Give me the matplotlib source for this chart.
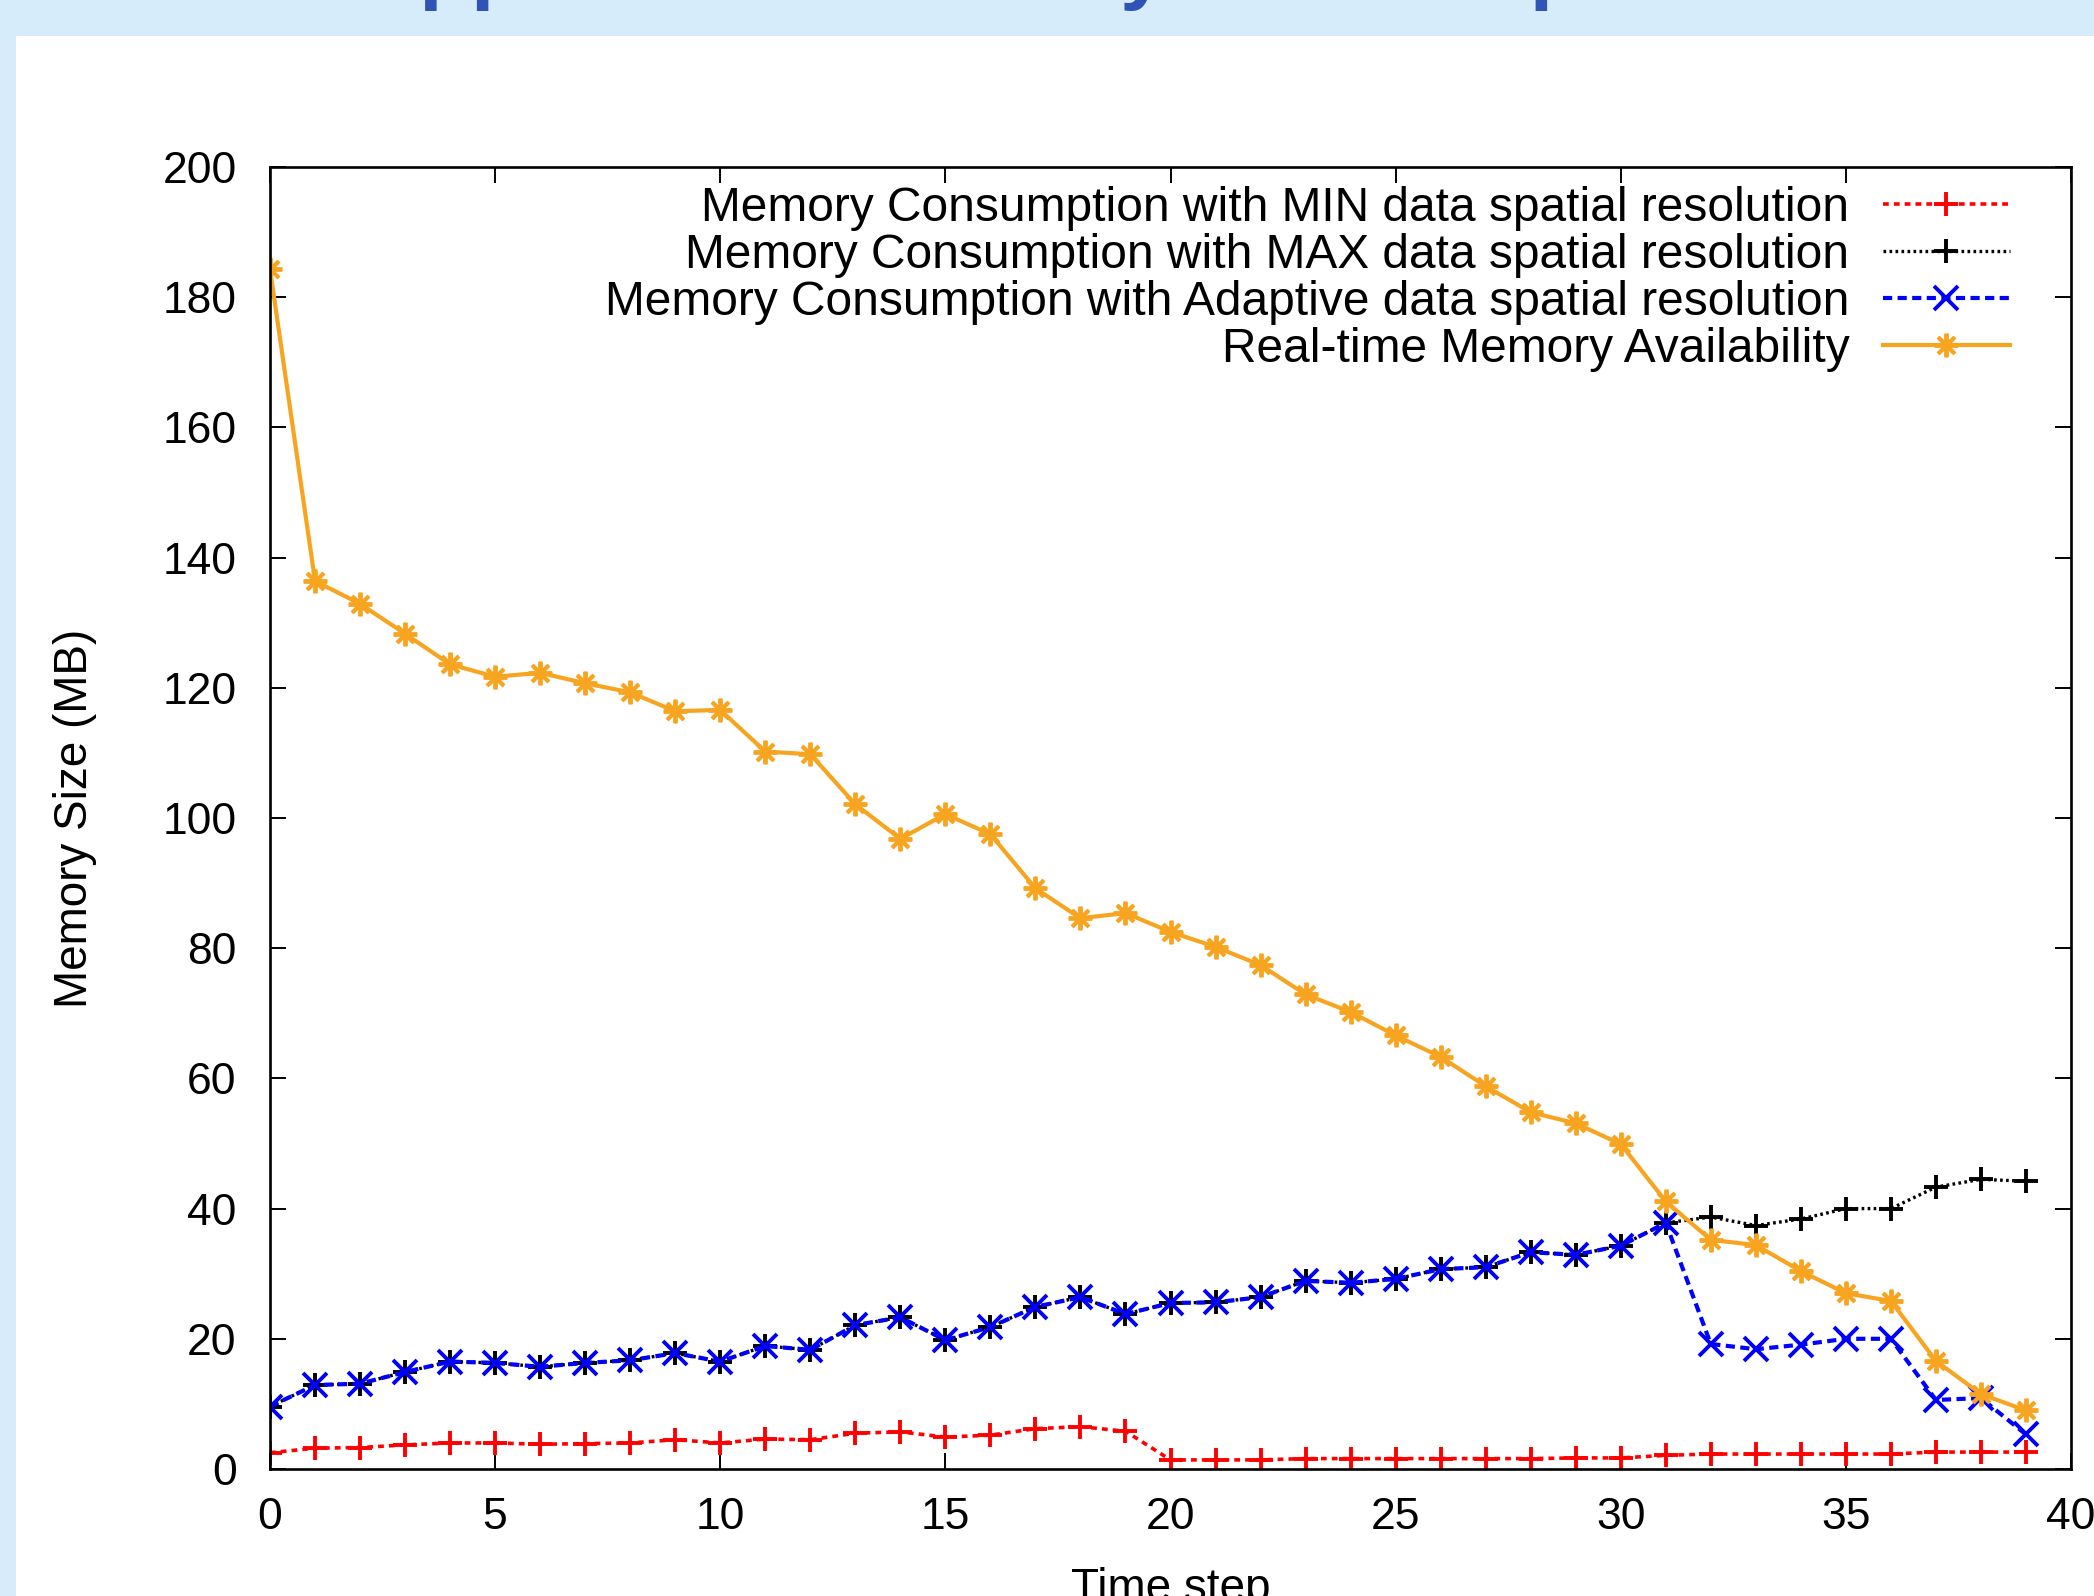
import matplotlib
matplotlib.use("Agg")
import matplotlib.pyplot as plt
from matplotlib.patches import Rectangle

plt.rcParams['font.family'] = ['Liberation Sans', 'DejaVu Sans']

# ---- data ----
time_steps = list(range(40))

mem_min = [2.5, 3.2, 3.3, 3.7, 4.0, 4.0, 3.8, 3.9, 4.0, 4.5,
           4.0, 4.6, 4.5, 5.5, 5.7, 4.9, 5.2, 6.2, 6.5, 5.8,
           1.4, 1.4, 1.4, 1.6, 1.6, 1.6, 1.6, 1.6, 1.6, 1.7,
           1.7, 2.1, 2.3, 2.3, 2.3, 2.3, 2.3, 2.6, 2.6, 2.6]

mem_max = [9.6, 12.9, 13.1, 14.9, 16.5, 16.3, 15.7, 16.3, 16.7, 17.8,
           16.5, 18.9, 18.3, 22.1, 23.3, 19.8, 21.8, 24.9, 26.4, 23.8,
           25.5, 25.6, 26.4, 28.9, 28.6, 29.2, 30.7, 31.0, 33.3, 32.9,
           34.3, 37.8, 38.7, 37.4, 38.4, 40.0, 40.0, 43.3, 44.5, 44.2]

mem_adaptive = [9.6, 12.9, 13.1, 14.9, 16.5, 16.3, 15.7, 16.3, 16.7, 17.8,
                16.5, 18.9, 18.3, 22.1, 23.3, 19.8, 21.8, 24.9, 26.4, 23.8,
                25.5, 25.6, 26.4, 28.9, 28.6, 29.2, 30.7, 31.0, 33.3, 32.9,
                34.3, 37.8, 19.2, 18.4, 19.1, 20.0, 20.0, 10.6, 10.9, 5.3]

mem_available = [184.3, 136.4, 132.9, 128.3, 123.6, 121.7, 122.3, 120.7, 119.3, 116.4,
                 116.6, 110.2, 109.8, 102.1, 96.8, 100.6, 97.5, 89.2, 84.6, 85.4,
                 82.5, 80.2, 77.4, 72.9, 70.2, 66.6, 63.3, 58.8, 54.8, 53.1,
                 49.9, 41.1, 35.2, 34.4, 30.4, 27.0, 25.8, 16.6, 11.5, 9.0]

series_labels = [
    "Memory Consumption with MIN data spatial resolution",
    "Memory Consumption with MAX data spatial resolution",
    "Memory Consumption with Adaptive data spatial resolution",
    "Real-time Memory Availability",
]
x_ticks = [0, 5, 10, 15, 20, 25, 30, 35, 40]
y_ticks = [0, 20, 40, 60, 80, 100, 120, 140, 160, 180, 200]

# ---- figure / slide background ----
W, H = 2094, 1596
fig = plt.figure(figsize=(W / 100, H / 100), dpi=100)
fig.patch.set_facecolor('#d6ecfb')
fig.patches.append(Rectangle((16 / W, 0), 1.0, (H - 36) / H,
                             transform=fig.transFigure, facecolor='white',
                             edgecolor='none', zorder=-10))

# slide title (runs off the top edge)
fig.text(358 / W, 1 + 7 / H, "Application Memory Consumption",
         ha='left', va='baseline', fontsize=61, fontweight='bold',
         color='#3153b5', zorder=1)

left, right = 270 / W, 2071 / W
bottom, top = (H - 1469) / H, (H - 167) / H
ax = fig.add_axes([left, bottom, right - left, top - bottom], zorder=5)
ax.set_facecolor('none')

marker_kw = dict(markersize=17, markeredgewidth=2.8)
asterisk = (8, 2, 0)

ax.plot(time_steps, mem_min, color='#ff0000', lw=2.6,
        linestyle=(0, (1.6, 1.4)), marker='+', label=series_labels[0], **marker_kw)
ax.plot(time_steps, mem_max, color='black', lw=2.4,
        linestyle=(0, (0.8, 1.0)), marker='+', label=series_labels[1], **marker_kw)
ax.plot(time_steps, mem_adaptive, color='#0000ff', lw=3.0,
        linestyle=(0, (2.2, 1.3)), marker='x', label=series_labels[2], **marker_kw)
ax.plot(time_steps, mem_available, color='#f7a521', lw=3.0,
        linestyle='-', marker=asterisk, label=series_labels[3], **marker_kw)

ax.set_xlim(0, 40)
ax.set_ylim(0, 200)
ax.set_xticks(x_ticks)
ax.set_yticks(y_ticks)
ax.tick_params(axis='both', direction='in', length=11.5, width=1.4,
               top=True, right=True, labelsize=32, colors='black')
ax.tick_params(axis='x', pad=20)
ax.tick_params(axis='y', pad=24)
for sp in ax.spines.values():
    sp.set_linewidth(1.9)
    sp.set_color('black')

ax.set_xlabel("Time step", fontsize=33)
ax.xaxis.set_label_coords(0.5, -0.0753)
ax.set_ylabel("Memory Size (MB)", fontsize=33)
ax.yaxis.set_label_coords(-0.096, 0.5)

ax.legend(loc='upper right', bbox_to_anchor=(0.9661, 0.9854),
          frameon=False, markerfirst=False, fontsize=34.5,
          handlelength=2.65, handletextpad=0.7, labelspacing=0.04,
          borderpad=0, borderaxespad=0, numpoints=1)

fig.savefig("out.png", dpi=100, facecolor=fig.get_facecolor())
